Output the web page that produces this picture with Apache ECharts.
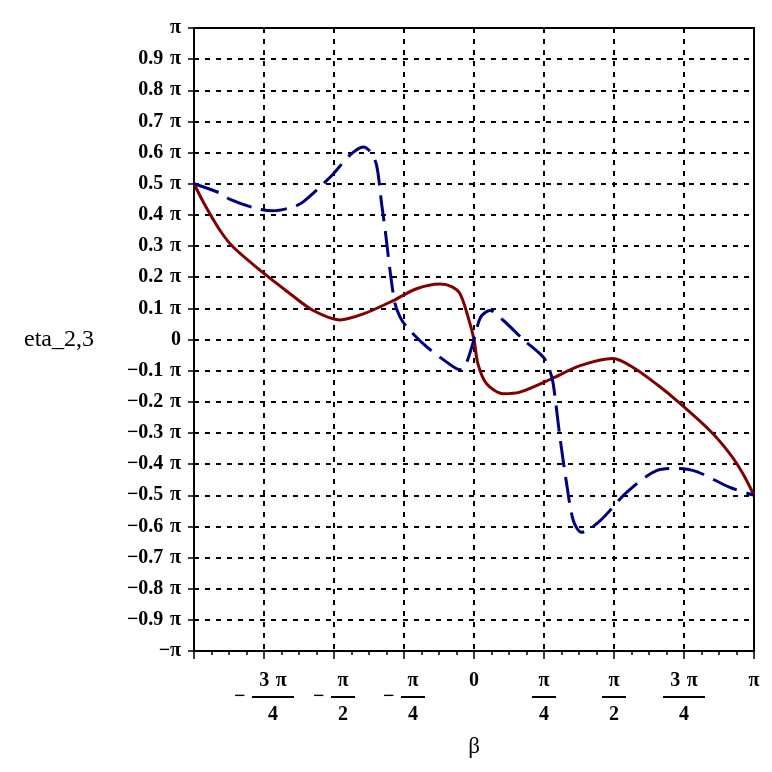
<!DOCTYPE html>
<html>
<head>
<meta charset="utf-8">
<script src="https://cdn.jsdelivr.net/npm/echarts@6/dist/echarts.min.js"></script>
<style>html,body{margin:0;padding:0;background:#fff}#c{width:772px;height:772px}</style>
</head>
<body>
<div id="c"></div>
<script>
// x and y values are in units of pi
var redX = [-1, -0.96, -0.907, -0.86, -0.75, -0.657, -0.574, -0.479, -0.395, -0.288, -0.205, -0.121, -0.08, -0.05, -0.021, 0, 0.014, 0.045, 0.104, 0.164, 0.277, 0.379, 0.496, 0.574, 0.657, 0.724, 0.843, 0.914, 0.96, 1];
var redY = [0.5, 0.43, 0.35, 0.297, 0.212, 0.147, 0.093, 0.063, 0.082, 0.125, 0.163, 0.178, 0.17, 0.147, 0.072, 0, -0.078, -0.142, -0.174, -0.169, -0.126, -0.084, -0.061, -0.093, -0.147, -0.196, -0.293, -0.367, -0.43, -0.5];
var blueX = [-1, -0.907, -0.871, -0.776, -0.717, -0.645, -0.61, -0.538, -0.502, -0.443, -0.395, -0.371, -0.348, -0.33, -0.317, -0.3, -0.282, -0.264, -0.24, -0.181, -0.121, -0.062, -0.045, -0.026, 0, 0.024, 0.057, 0.105, 0.176, 0.248, 0.271, 0.283, 0.307, 0.331, 0.355, 0.384, 0.45, 0.545, 0.652, 0.724, 0.795, 0.914, 1];
var blueY = [0.5, 0.47, 0.45, 0.42, 0.413, 0.426, 0.442, 0.5, 0.532, 0.592, 0.618, 0.603, 0.56, 0.436, 0.35, 0.222, 0.115, 0.072, 0.04, -0.014, -0.057, -0.094, -0.097, -0.073, 0, 0.072, 0.093, 0.061, 0, -0.057, -0.1, -0.143, -0.314, -0.464, -0.582, -0.619, -0.582, -0.491, -0.421, -0.414, -0.424, -0.475, -0.5];
var xTickValues = [-1, -0.75, -0.5, -0.25, 0, 0.25, 0.5, 0.75, 1];
var xTickLabels = ['', '-3π/4', '-π/2', '-π/4', '0', 'π/4', 'π/2', '3π/4', 'π'];
var yTitle = 'eta_2,3';
var xTitle = 'β';

function pairs(xs, ys) { return xs.map(function (x, i) { return [x, ys[i]]; }); }

var FONT = '"Liberation Serif", "Times New Roman", serif';
var FS = 20;
var FW = 'bold';
var SP = '\u2004';

function xLabel(v) {
  var idx = -1;
  for (var i = 0; i < xTickValues.length; i++) if (Math.abs(xTickValues[i] - v) < 1e-6) idx = i;
  if (idx < 0) return '';
  var s = xTickLabels[idx];
  if (s.indexOf('/') < 0) return s === '' ? '' : '{n|' + s + '}';
  var neg = s.charAt(0) === '-';
  if (neg) s = s.slice(1);
  var parts = s.split('/');
  var num = parts[0].replace('π', SP + 'π').trim();
  var wide = parts[0].length > 1;
  var bw = wide ? 'w' : 'n';
  var lines;
  if (neg) {
    lines = '{pad| }{num' + bw + '|' + num + '}\n{minus|−}{bar' + bw + '| }\n{pad| }{den' + bw + '|' + parts[1] + '}';
  } else {
    lines = '{num' + bw + '|' + num + '}\n{bar' + bw + '| }\n{den' + bw + '|' + parts[1] + '}';
  }
  return lines;
}

function yLabel(v) {
  var r = Math.round(v * 10) / 10;
  if (r === 1) return 'π';
  if (r === -1) return '−' + 'π';
  if (r === 0) return '0';
  return (r < 0 ? '−' : '') + Math.abs(r).toFixed(1) + SP + 'π';
}

var txt = function (extra) {
  var o = { fontFamily: FONT, fontSize: FS, fontWeight: FW, color: '#000' };
  for (var k in extra) o[k] = extra[k];
  return o;
};

var chart = echarts.init(document.getElementById('c'), null, { renderer: 'canvas' });
chart.setOption({
  animation: false,
  backgroundColor: '#fff',
  grid: { left: 194, right: 18, top: 28, bottom: 121, show: true, borderColor: '#000', borderWidth: 2, backgroundColor: 'transparent' },
  xAxis: {
    type: 'value', min: -1, max: 1, interval: 0.25,
    name: xTitle, nameLocation: 'middle', nameGap: 84,
    nameTextStyle: { fontFamily: FONT, fontSize: 23, color: '#000' },
    axisLine: { show: true, onZero: false, lineStyle: { color: '#000', width: 2 } },
    axisTick: { show: true, length: 8, lineStyle: { color: '#000', width: 1.5 } },
    minorTick: { show: true, splitNumber: 4, length: 4, lineStyle: { color: '#000', width: 1.5 } },
    splitLine: { show: true, lineStyle: { color: '#000', width: 2, type: [5, 6] } },
    axisLabel: {
      margin: 20, color: '#000', fontFamily: FONT, fontSize: FS, fontWeight: FW,
      formatter: xLabel,
      rich: {
        n: txt({ lineHeight: 20 }),
        numw: txt({ lineHeight: 20, width: 42, align: 'center' }),
        numn: txt({ lineHeight: 20, width: 24, align: 'center' }),
        denw: txt({ lineHeight: 24, width: 42, align: 'center' }),
        denn: txt({ lineHeight: 24, width: 24, align: 'center' }),
        barw: { width: 42, height: 2, backgroundColor: '#000', lineHeight: 12, fontSize: 2 },
        barn: { width: 24, height: 2, backgroundColor: '#000', lineHeight: 12, fontSize: 2 },
        minus: txt({ width: 18, align: 'left', lineHeight: 12 }),
        pad: txt({ width: 18, lineHeight: 20 })
      }
    }
  },
  yAxis: {
    type: 'value', min: -1, max: 1, interval: 0.1,
    name: yTitle, nameLocation: 'middle', nameRotate: 0, nameGap: 100,
    nameTextStyle: { fontFamily: FONT, fontSize: 24, color: '#000', align: 'right', verticalAlign: 'middle', padding: [6, 0, 0, 0] },
    axisLine: { show: true, onZero: false, lineStyle: { color: '#000', width: 2 } },
    axisTick: { show: true, length: 6, lineStyle: { color: '#000', width: 1.5 } },
    splitLine: { show: true, lineStyle: { color: '#000', width: 2, type: [5, 6] } },
    axisLabel: { margin: 13, color: '#000', fontFamily: FONT, fontSize: FS, fontWeight: FW, formatter: yLabel }
  },
  series: [
    {
      type: 'line', data: pairs(redX, redY), showSymbol: false, smooth: 0.3,
      lineStyle: { color: '#800000', width: 3 }, z: 3
    },
    {
      type: 'line', data: pairs(blueX, blueY), showSymbol: false, smooth: 0.3,
      lineStyle: { color: '#000080', width: 3, type: [26, 10] }, z: 4
    }
  ]
});
</script>
</body>
</html>
